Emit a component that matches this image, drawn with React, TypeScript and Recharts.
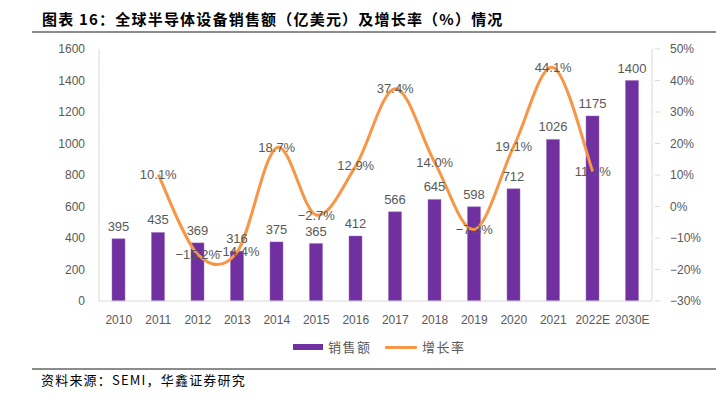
import React from "react";
import { ComposedChart, Bar, Line, XAxis, YAxis, LabelList } from "recharts";

const categories = ["2010", "2011", "2012", "2013", "2014", "2015", "2016", "2017", "2018", "2019", "2020", "2021", "2022E", "2030E"];
const sales = [395, 435, 369, 316, 375, 365, 412, 566, 645, 598, 712, 1026, 1175, 1400];
const growth: (number | null)[] = [null, 10.1, -15.2, -14.4, 18.7, -2.7, 12.9, 37.4, 14.0, -7.3, 19.1, 44.1, 11.1, null];
const leftTicks = [0, 200, 400, 600, 800, 1000, 1200, 1400, 1600];
const rightTicks = [-30, -20, -10, 0, 10, 20, 30, 40, 50];

const data = categories.map((c, i) => ({ year: c, sales: sales[i], growth: growth[i] }));

const PURPLE = "#7030A0";
const ORANGE = "#F79646";
const TEXT = "#595959";
const AXIS = "#D9D9D9";
const FONT = "'Liberation Sans', Arial, sans-serif";
const CJK = "'Noto Sans CJK SC', sans-serif";

const fmtPct = (v: number) => `${v < 0 ? "\u2212" : ""}${Math.abs(v).toFixed(1)}%`;
const fmtTick = (v: number) => `${v < 0 ? "\u2212" : ""}${Math.abs(v)}%`;

function excelCurve(context: any) {
  let pts: number[][] = [];
  return {
    areaStart() {},
    areaEnd() {},
    lineStart() {
      pts = [];
    },
    point(x: number, y: number) {
      pts.push([+x, +y]);
    },
    lineEnd() {
      if (!pts.length) return;
      context.moveTo(pts[0][0], pts[0][1]);
      for (let i = 0; i < pts.length - 1; i++) {
        const p0 = pts[i - 1] || pts[i];
        const p1 = pts[i];
        const p2 = pts[i + 1];
        const p3 = pts[i + 2] || p2;
        context.bezierCurveTo(
          p1[0] + (p2[0] - p0[0]) / 6,
          p1[1] + (p2[1] - p0[1]) / 6,
          p2[0] - (p3[0] - p1[0]) / 6,
          p2[1] - (p3[1] - p1[1]) / 6,
          p2[0],
          p2[1]
        );
      }
    },
  };
}

const RightTick = (props: any) => {
  const { x, y, payload } = props;
  return (
    <g>
      <line x1={x - 5} y1={y} x2={x} y2={y} stroke={AXIS} />
      <text x={x + 10} y={y} dy={4} textAnchor="start" fill={TEXT} fontSize={12} fontFamily={FONT}>
        {fmtTick(payload.value)}
      </text>
    </g>
  );
};

export default function App() {
  return (
    <div style={{ position: "absolute", left: 0, top: 0, width: 716, height: 394, background: "#fff", overflow: "hidden" }}>
      <div
        style={{
          position: "absolute",
          left: 42,
          top: 9,
          fontFamily: CJK,
          fontWeight: 700,
          fontSize: 15,
          letterSpacing: 1.2,
          color: "#000",
          whiteSpace: "nowrap",
          lineHeight: "20px",
        }}
      >
        图表 16：全球半导体设备销售额（亿美元）及增长率（%）情况
      </div>
      <div style={{ position: "absolute", left: 32, top: 31, width: 684, height: 2, background: "#8c8c8c" }} />

      <div style={{ position: "absolute", left: 0, top: 0 }}>
        <ComposedChart
          width={716}
          height={330}
          data={data}
          margin={{ top: 49, right: 0, bottom: 0, left: 0 }}
          barCategoryGap="33%"
        >
          <XAxis
            dataKey="year"
            stroke={AXIS}
            tickLine={false}
            height={29}
            interval={0}
            tick={{ fill: TEXT, fontSize: 12, fontFamily: FONT }}
            tickMargin={8}
          />
          <YAxis
            yAxisId="left"
            orientation="left"
            width={99}
            domain={[0, 1600]}
            ticks={leftTicks}
            stroke={AXIS}
            tickLine={false}
            tickMargin={8}
            interval={0}
            tick={{ fill: TEXT, fontSize: 12, fontFamily: FONT }}
          />
          <YAxis
            yAxisId="right"
            orientation="right"
            width={64}
            domain={[-30, 50]}
            ticks={rightTicks}
            stroke={AXIS}
            tickLine={false}
            interval={0}
            tick={<RightTick />}
          />
          <Bar yAxisId="left" dataKey="sales" fill={PURPLE} stroke="#9a6cc0" strokeWidth={0.5} barSize={13} isAnimationActive={false}>
            <LabelList dataKey="sales" position="top" offset={8} fill={TEXT} fontSize={13} fontFamily={FONT} />
          </Bar>
          <Line
            yAxisId="right"
            dataKey="growth"
            type={excelCurve as any}
            stroke={ORANGE}
            strokeWidth={3}
            dot={false}
            activeDot={false}
            isAnimationActive={false}
          >
            <LabelList
              dataKey="growth"
              position="center"
              fill={TEXT}
              fontSize={13}
              fontFamily={FONT}
              formatter={(v: any) => (v == null ? "" : fmtPct(Number(v)))}
            />
          </Line>
        </ComposedChart>
      </div>

      <div style={{ position: "absolute", left: 293, top: 344, width: 30, height: 6, background: PURPLE }} />
      <div style={{ position: "absolute", left: 328, top: 338, fontFamily: CJK, fontSize: 13, color: TEXT, lineHeight: "18px", letterSpacing: 1.5 }}>
        销售额
      </div>
      <div style={{ position: "absolute", left: 385, top: 346, width: 32, height: 3, background: ORANGE, borderRadius: 1 }} />
      <div style={{ position: "absolute", left: 422, top: 338, fontFamily: CJK, fontSize: 13, color: TEXT, lineHeight: "18px", letterSpacing: 1.5 }}>
        增长率
      </div>

      <div style={{ position: "absolute", left: 32, top: 368, width: 684, height: 2, background: "#8c8c8c" }} />
      <div style={{ position: "absolute", left: 41, top: 371, fontFamily: CJK, fontSize: 13, letterSpacing: 1.2, color: "#000", lineHeight: "18px", whiteSpace: "nowrap" }}>
        资料来源：SEMI，华鑫证券研究
      </div>
    </div>
  );
}
